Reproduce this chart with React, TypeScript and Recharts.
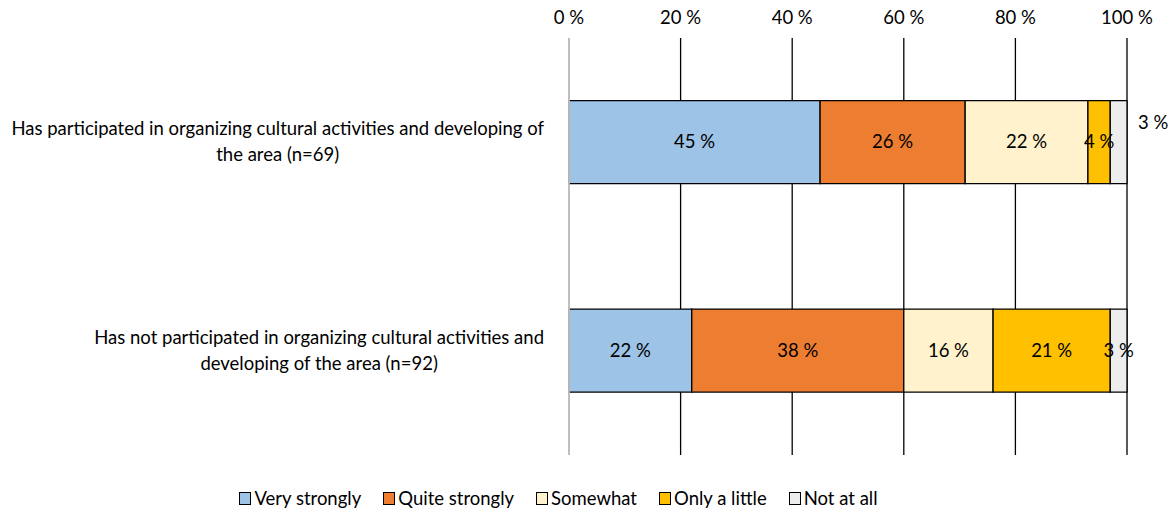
import React from "react";
import {
  BarChart,
  Bar,
  XAxis,
  YAxis,
  CartesianGrid,
  Legend,
  LabelList,
  ReferenceLine,
} from "recharts";

const categories = [
  "Has participated in organizing cultural activities and developing of the area (n=69)",
  "Has not participated in organizing cultural activities and developing of the area (n=92)",
];

// wrapped tick labels, as in the original
const tickLines: Record<string, string[]> = {
  [categories[0]]: [
    "Has participated in organizing cultural activities and developing of",
    "the area (n=69)",
  ],
  [categories[1]]: [
    "Has not participated in organizing cultural activities and",
    "developing of the area (n=92)",
  ],
};

const veryStrongly = [45, 22];
const quiteStrongly = [26, 38];
const somewhat = [22, 16];
const onlyALittle = [4, 21];
const notAtAll = [3, 3];

const xTicks = [0, 20, 40, 60, 80, 100];

const series = [
  { key: "veryStrongly", name: "Very strongly", color: "#9DC3E6", values: veryStrongly },
  { key: "quiteStrongly", name: "Quite strongly", color: "#ED7D31", values: quiteStrongly },
  { key: "somewhat", name: "Somewhat", color: "#FFF2CC", values: somewhat },
  { key: "onlyALittle", name: "Only a little", color: "#FFC000", values: onlyALittle },
  { key: "notAtAll", name: "Not at all", color: "#EDEDED", values: notAtAll },
];

const data = categories.map((name, i) => {
  const row: Record<string, string | number> = { name };
  series.forEach((s) => {
    row[s.key] = s.values[i];
  });
  return row;
});

const FONT = "Lato, 'Open Sans', sans-serif";
const SIZE = 18.5;

let canvasCtx: CanvasRenderingContext2D | null = null;
function textWidth(text: string, size: number) {
  if (!canvasCtx) canvasCtx = document.createElement("canvas").getContext("2d");
  if (!canvasCtx) return text.length * size * 0.5;
  canvasCtx.font = `${size}px Lato`;
  return canvasCtx.measureText(text).width;
}

const CategoryTick = (props: any) => {
  const { x, y, payload } = props;
  const lines = tickLines[payload.value] || [payload.value];
  const widest = Math.max(...lines.map((l) => textWidth(l, SIZE)));
  const right = x - 17;
  const cx = right - widest / 2;
  const lh = 26;
  const startY = y - ((lines.length - 1) * lh) / 2 + 6;
  return (
    <text fontFamily={FONT} fontSize={SIZE} fill="#000" textAnchor="middle">
      {lines.map((l, i) => (
        <tspan key={i} x={cx} y={startY + i * lh}>
          {l}
        </tspan>
      ))}
    </text>
  );
};

const renderValueLabel = (outsideFirst: boolean) => (props: any) => {
  const { x, y, width, height, value, index } = props;
  const cy = y + height / 2 + 6;
  if (outsideFirst && index === 0) {
    return (
      <text x={x + width + 11} y={cy - 19} fontFamily={FONT} fontSize={SIZE} fill="#000">
        {`${value} %`}
      </text>
    );
  }
  return (
    <text x={x + width / 2} y={cy} fontFamily={FONT} fontSize={SIZE} fill="#000" textAnchor="middle">
      {`${value} %`}
    </text>
  );
};

const renderLegend = () => (
  <div
    style={{
      display: "flex",
      justifyContent: "center",
      gap: 22,
      fontFamily: FONT,
      fontSize: SIZE,
      color: "#000",
      marginLeft: -10,
    }}
  >
    {series.map((s) => (
      <div key={s.key} style={{ display: "flex", alignItems: "center" }}>
        <span
          style={{
            display: "inline-block",
            width: 10,
            height: 11,
            background: s.color,
            border: "1.3px solid #000",
            marginRight: 3,
          }}
        />
        <span>{s.name}</span>
      </div>
    ))}
  </div>
);

export default function App() {
  return (
    <div style={{ position: "absolute", left: 0, top: 0, background: "#fff" }}>
      <BarChart
        width={1170}
        height={513}
        data={data}
        layout="vertical"
        margin={{ top: 0, right: 43, bottom: 36, left: 0 }}
        barCategoryGap="30%"
      >
        <CartesianGrid horizontal={false} stroke="#000" strokeWidth={1.3} />
        <XAxis
          type="number"
          orientation="top"
          domain={[0, 100]}
          ticks={xTicks}
          tickFormatter={(v) => `${v} %`}
          axisLine={false}
          tickLine={false}
          height={38}
          tick={{ fontFamily: FONT, fontSize: SIZE, fill: "#000" }}
          tickMargin={8}
        />
        <YAxis
          type="category"
          dataKey="name"
          width={569}
          axisLine={false}
          tickLine={false}
          tick={<CategoryTick />}
        />
        <ReferenceLine x={0} stroke="#D9D9D9" strokeWidth={1.6} />
        {series.map((s, i) => (
          <Bar
            key={s.key}
            dataKey={s.key}
            name={s.name}
            stackId="a"
            fill={s.color}
            stroke="#000"
            strokeWidth={1.3}
            isAnimationActive={false}
          >
            <LabelList dataKey={s.key} content={renderValueLabel(i === series.length - 1)} />
          </Bar>
        ))}
        <Legend verticalAlign="bottom" content={renderLegend} wrapperStyle={{ bottom: 4 }} />
      </BarChart>
    </div>
  );
}
